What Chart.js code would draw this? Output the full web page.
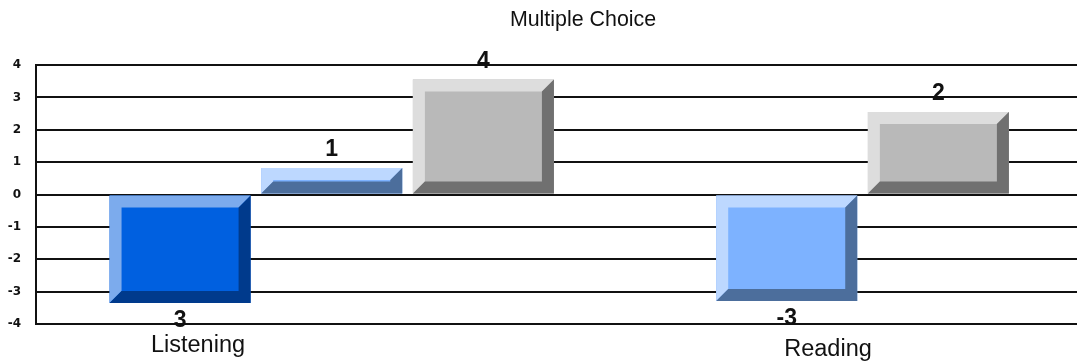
<!DOCTYPE html>
<html>
<head>
<meta charset="utf-8">
<style>
html, body { margin: 0; padding: 0; background: #fff; }
#wrap { width: 1077px; height: 364px; }
</style>
<script src="https://cdn.jsdelivr.net/npm/chart.js@4"></script>
</head>
<body>
<div id="wrap"><canvas id="myChart"></canvas></div>
<script>
const categories = ['Listening', 'Reading'];
const chartTitle = 'Multiple Choice';

// bar lengths, labels are what the picture prints
const darkBlue = [-3.35, null];
const lightBlue = [0.82, -3.29];
const gray = [3.55, 2.55];
const darkBlueLabels = ['3', null];
const lightBlueLabels = ['1', '-3'];
const grayLabels = ['4', '2'];

const ctx = document.querySelector('#myChart');

// face, top/left bevel, bottom/right bevel
const bevelColors = {
	darkBlue: ['#0060E0', '#7CABED', '#003A8C'],
	lightBlue: ['#7DB2FF', '#BDD8FF', '#4C6E9C'],
	gray: ['#B9B9B9', '#DDDDDD', '#707070']
};

function makeSet(name, values, labels) {
	return {
		label: name,
		data: values,
		valueLabels: labels,
		bevel: bevelColors[name],
		backgroundColor: bevelColors[name][0],
		borderWidth: 0,
		categoryPercentage: 1,
		barPercentage: 0.93
	};
}

function poly(c, color, pts) {
	c.fillStyle = color;
	c.beginPath();
	c.moveTo(pts[0][0], pts[0][1]);
	pts.slice(1).forEach(p => c.lineTo(p[0], p[1]));
	c.closePath();
	c.fill();
}

// chart.js has no bevelled bar, so paint it on top of each bar element
const bevelPlugin = {
	id: 'bevel',
	afterDatasetsDraw(chart) {
		const c = chart.ctx;
		chart.data.datasets.forEach((ds, d) => {
			chart.getDatasetMeta(d).data.forEach((bar, i) => {
				if (ds.data[i] === null) return;
				const p = bar.getProps(['x', 'y', 'base', 'width'], true);
				const l = p.x - p.width / 2;
				const r = p.x + p.width / 2;
				const t = Math.min(p.y, p.base);
				const b = Math.max(p.y, p.base);
				const e = Math.min(12, (b - t) / 2);
				poly(c, ds.bevel[1], [[l, b], [l, t], [r, t], [r - e, t + e], [l + e, t + e], [l + e, b - e]]);
				poly(c, ds.bevel[2], [[r, t], [r, b], [l, b], [l + e, b - e], [r - e, b - e], [r - e, t + e]]);

				c.fillStyle = '#111';
				c.font = 'bold 23px "Liberation Sans"';
				c.textAlign = 'center';
				c.textBaseline = 'middle';
				const ly = ds.data[i] < 0 ? b + 18 : t - 18;
				c.fillText(ds.valueLabels[i], p.x, ly);
			});
		});
	}
};

// title and category names do not sit centred in the original
const textPlugin = {
	id: 'looseText',
	afterDraw(chart) {
		const c = chart.ctx;
		c.fillStyle = '#111';
		c.textAlign = 'center';
		c.textBaseline = 'middle';
		c.font = '21.4px "Liberation Sans"';
		c.fillText(chartTitle, 583, 20);
		c.font = '23.5px "Liberation Sans"';
		c.fillText(categories[0], 198, 346);
		c.fillText(categories[1], 828, 350);
	}
};

const myChart = new Chart(ctx, {
	type: 'bar',
	data: {
		labels: categories.map((name, i) => i + 1),
		datasets: [
			makeSet('darkBlue', darkBlue, darkBlueLabels),
			makeSet('lightBlue', lightBlue, lightBlueLabels),
			makeSet('gray', gray, grayLabels)
		]
	},
	options: {
		responsive: true,
		maintainAspectRatio: false,
		animation: false,
		layout: { padding: { top: 65, bottom: 40 } },
		plugins: {
			legend: { display: false },
			tooltip: { enabled: false }
		},
		scales: {
			x: {
				type: 'linear',
				display: false,
				offset: false,
				min: 0.35,
				max: 2.638,
				ticks: { stepSize: 1, includeBounds: false }
			},
			y: {
				min: -4,
				max: 4,
				afterFit(scale) { scale.width = 36; },
				border: { color: '#111', width: 2 },
				grid: { color: '#111', lineWidth: 2, drawTicks: false },
				ticks: {
					stepSize: 1,
					padding: 15,
					color: '#111',
					font: { family: 'DejaVu Sans', size: 12, weight: 'bold' }
				}
			}
		}
	},
	plugins: [bevelPlugin, textPlugin]
});
</script>
</body>
</html>
